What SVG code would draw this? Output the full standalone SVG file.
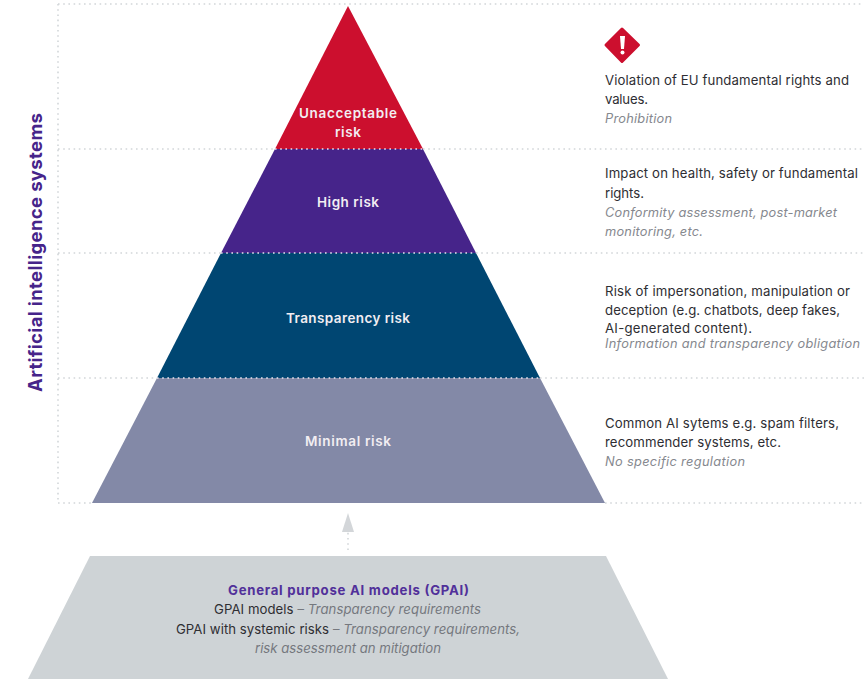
<svg xmlns="http://www.w3.org/2000/svg" width="864" height="682" viewBox="0 0 864 682">
<style>
text{font-family:"Inter","Open Sans","Liberation Sans",sans-serif}
.g{fill:none;stroke:#d2d6d9;stroke-width:1.6;stroke-dasharray:1.6 3.6}
.b{fill:none;stroke:#e8e4ee;stroke-width:1.5;stroke-dasharray:1.6 3.6}
.w{fill:#f2eef2;font-size:13.500px;font-weight:600;text-anchor:middle}
.d{fill:#2e2e33;font-size:13.200px}
.i{fill:#85888e;font-size:12.800px;font-style:italic}
.c{font-size:13.200px;text-anchor:middle}
.n{fill:#2e2e33}
.m{fill:#75787e;font-style:italic}
</style>
<rect width="864" height="682" fill="#fff"/>
<g id="unacceptable">
<polygon points="348,6 423,149 275,149" fill="#cc0f2e"/>
<text class="w" x="348" y="118" textLength="98" lengthAdjust="spacing">Unacceptable</text>
<text class="w" x="348" y="137" textLength="26" lengthAdjust="spacing">risk</text>
</g>
<g id="high">
<polygon points="275,149 423,149 476,253 221,253" fill="#46248a"/>
<text class="w" x="348" y="207" textLength="62" lengthAdjust="spacing">High risk</text>
</g>
<g id="transparency">
<polygon points="221,253 476,253 540,378 157,378" fill="#004672"/>
<text class="w" x="348" y="323" textLength="124" lengthAdjust="spacing">Transparency risk</text>
</g>
<g id="minimal">
<polygon points="157,378 540,378 605,503 92,503" fill="#8389a7"/>
<text class="w" x="348" y="446" textLength="86" lengthAdjust="spacing">Minimal risk</text>
</g>
<g id="connectors">
<path class="g" d="M58 4H864M58 4V503M58 149H275M423 149H864M58 253H221M476 253H864M58 378H157M540 378H864M58 503H92M605 503H864"/>
<path class="b" d="M275 149H423M221 253H476M157 378H540"/>
<path class="g" d="M348 550V532"/>
<polygon points="348,513 354,532 342,532" fill="#d3d6d9"/>
</g>
<g id="gpai">
<polygon points="90,556 606,556 668,679 28,679" fill="#ced3d6"/>
<text class="c" x="348.500" y="595" fill="#51309a" font-weight="700" textLength="241" lengthAdjust="spacing">General purpose AI models (GPAI)</text>
<text class="c" x="347.500" y="614" textLength="267" lengthAdjust="spacing"><tspan class="n">GPAI models</tspan><tspan class="m"> – Transparency requirements</tspan></text>
<text class="c" x="348" y="634" textLength="344" lengthAdjust="spacing"><tspan class="n">GPAI with systemic risks</tspan><tspan class="m"> – Transparency requirements,</tspan></text>
<text class="c m" x="348" y="653" textLength="186" lengthAdjust="spacing">risk assessment an mitigation</text>
</g>
<g id="axis-label">
<text x="0" y="0" transform="translate(42 392) rotate(-90)" fill="#46248a" font-size="18.500" font-weight="700" textLength="279" lengthAdjust="spacing">Artificial intelligence systems</text>
</g>
<g id="warning">
<path d="M622 29L638.500 45L622 61.500L606 45Z" fill="#cc0f2e" stroke="#cc0f2e" stroke-width="3" stroke-linejoin="round"/>
<path d="M620 36H625L624 49H621Z" fill="#fff"/>
<circle cx="622.500" cy="52.500" r="2" fill="#fff"/>
</g>
<g id="desc-unacceptable">
<text class="d" x="605" y="85" textLength="244" lengthAdjust="spacing">Violation of EU fundamental rights and</text>
<text class="d" x="605" y="104" textLength="43" lengthAdjust="spacing">values.</text>
<text class="i" x="605" y="123" textLength="67" lengthAdjust="spacing">Prohibition</text>
</g>
<g id="desc-high">
<text class="d" x="605" y="178" textLength="253" lengthAdjust="spacing">Impact on health, safety or fundamental</text>
<text class="d" x="605" y="198" textLength="39" lengthAdjust="spacing">rights.</text>
<text class="i" x="605" y="217" textLength="232" lengthAdjust="spacing">Conformity assessment, post-market</text>
<text class="i" x="605" y="236" textLength="98" lengthAdjust="spacing">monitoring, etc.</text>
</g>
<g id="desc-transparency">
<text class="d" x="605" y="296" textLength="245" lengthAdjust="spacing">Risk of impersonation, manipulation or</text>
<text class="d" x="605" y="315" textLength="235" lengthAdjust="spacing">deception (e.g. chatbots, deep fakes,</text>
<text class="d" x="605" y="333" textLength="147" lengthAdjust="spacing">AI-generated content).</text>
<text class="i" x="605" y="348" textLength="255" lengthAdjust="spacing">Information and transparency obligation</text>
</g>
<g id="desc-minimal">
<text class="d" x="605" y="428" textLength="234" lengthAdjust="spacing">Common AI sytems e.g. spam filters,</text>
<text class="d" x="605" y="447" textLength="176" lengthAdjust="spacing">recommender systems, etc.</text>
<text class="i" x="605" y="466" textLength="140" lengthAdjust="spacing">No specific regulation</text>
</g>
</svg>
